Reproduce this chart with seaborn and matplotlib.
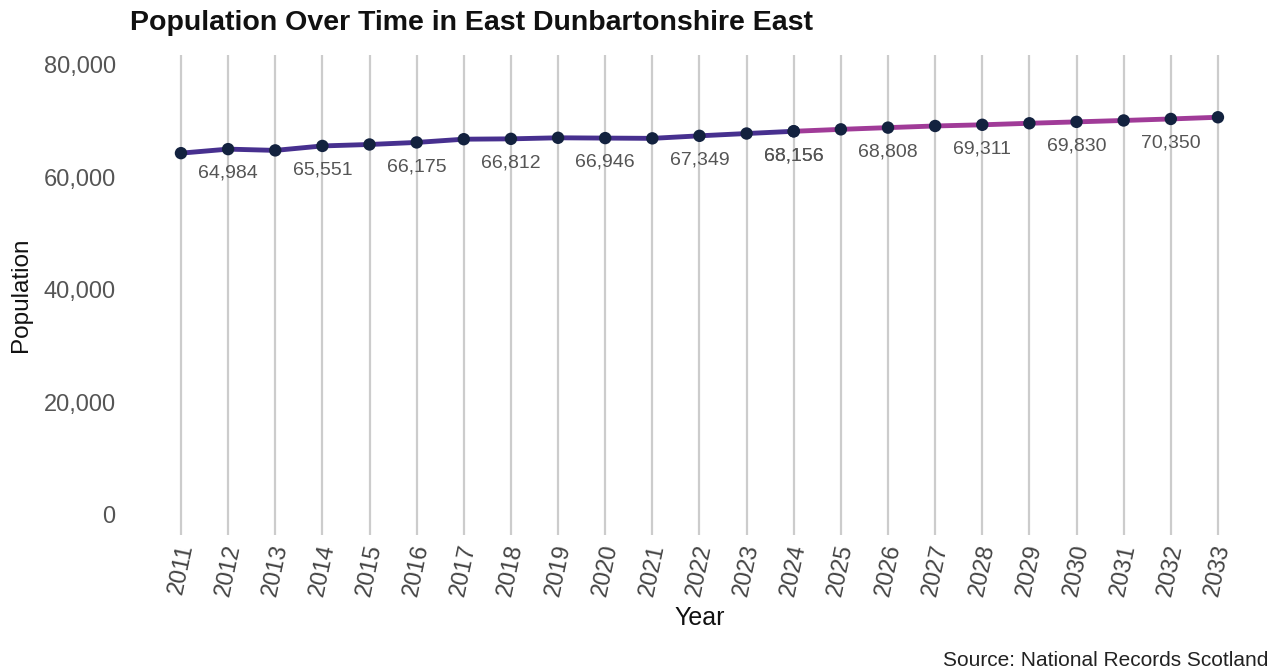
import matplotlib
matplotlib.use("Agg")
import matplotlib.pyplot as plt
import seaborn as sns
import pandas as pd
from matplotlib.ticker import FuncFormatter

hist_years = [2011, 2012, 2013, 2014, 2015, 2016, 2017, 2018, 2019, 2020, 2021, 2022, 2023, 2024]
hist_pop = [64270, 64984, 64760, 65551, 65810, 66175, 66750, 66812, 67000, 66946, 66900, 67349, 67760, 68156]
proj_years = [2024, 2025, 2026, 2027, 2028, 2029, 2030, 2031, 2032, 2033]
proj_pop = [68156, 68500, 68808, 69100, 69311, 69580, 69830, 70080, 70350, 70650]

title = "Population Over Time in East Dunbartonshire East"
source = "Source: National Records Scotland"

sns.set_style("white")
plt.rcParams['font.family'] = ['Liberation Sans', 'DejaVu Sans']

fig = plt.figure(figsize=(12.86, 6.72), dpi=100)
ax = fig.add_axes([0.1224, 0.204, 0.843, 0.714])

hist = pd.DataFrame({"Year": hist_years, "Population": hist_pop})
proj = pd.DataFrame({"Year": proj_years, "Population": proj_pop})

all_years = sorted(set(hist_years) | set(proj_years))
for yr in all_years:
    ax.axvline(yr, color="#cccccc", lw=1.6, zorder=0)

sns.lineplot(data=hist, x="Year", y="Population", ax=ax, color="#47308f", lw=3.5, zorder=2)
sns.lineplot(data=proj, x="Year", y="Population", ax=ax, color="#a03b98", lw=3.5, zorder=2)
sns.scatterplot(data=hist, x="Year", y="Population", ax=ax, color="#13223f", s=80, zorder=3, edgecolor="none")
sns.scatterplot(data=proj, x="Year", y="Population", ax=ax, color="#13223f", s=80, zorder=3, edgecolor="none")

for df in (hist, proj):
    for yr, p in zip(df["Year"], df["Population"]):
        if yr % 2 == 0:
            ax.annotate(f"{p:,}", (yr, p), xytext=(0, -17.5), textcoords="offset points",
                        ha="center", va="center", fontsize=14, color="#555555")

ax.set_xlim(2010.5, 2033.5)
ax.set_ylim(-3600, 81700)
ax.set_xticks(all_years)
ax.set_xticklabels([str(y) for y in all_years], rotation=78, fontsize=17, color="#444444")
ax.set_yticks([0, 20000, 40000, 60000, 80000])
ax.yaxis.set_major_formatter(FuncFormatter(lambda v, p: f"{int(v):,}"))
ax.tick_params(axis="y", labelsize=17, colors="#555555", length=0, pad=30)
ax.tick_params(axis="x", length=0, pad=5)
for s in ax.spines.values():
    s.set_visible(False)
ax.grid(False)

ax.set_xlabel("Year", fontsize=18, color="#111111", labelpad=6)
ax.set_ylabel("Population", fontsize=17.5, color="#111111", labelpad=8)

fig.text(130 / 1286, 1 - 23 / 672, title, fontsize=20.5, fontweight="bold", ha="left", va="center", color="#111111")
fig.text(1268 / 1286, 1 - 660 / 672, source, fontsize=15, ha="right", va="center", color="#222222")

fig.savefig("out.png", dpi=100)
